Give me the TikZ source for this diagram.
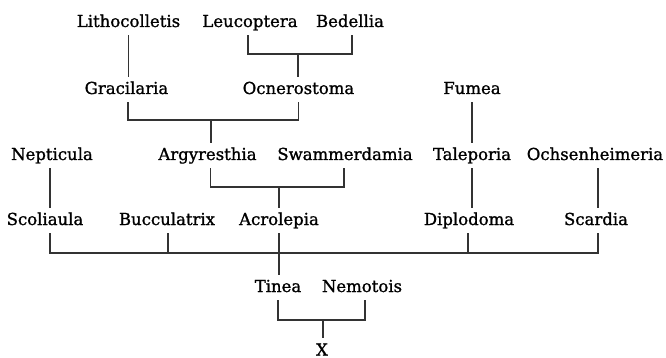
\documentclass[tikz,border=0pt]{standalone}
\usepackage{fontspec}
\newfontfamily\taxonfont[FakeBold=1.2]{DejaVu Serif}
\begin{document}
\begin{tikzpicture}[x=1pt,y=-1pt,
  taxon/.style={anchor=base,inner xsep=0pt,inner ysep=2pt,text height=15pt,text depth=6pt,font=\taxonfont\fontsize{16.5}{20}\selectfont},
  link/.style={line width=1.2pt,draw=black!80}]
\useasboundingbox[fill=white] (0,0) rectangle (666,358);
% row 1
\node[taxon] (lith) at (128.5,27) {Lithocolletis};
\node[taxon] (leu)  at (250,27) {Leucoptera};
\node[taxon] (bed)  at (350,27) {Bedellia};
% row 2
\node[taxon] (grac) at (126.5,94) {Gracilaria};
\node[taxon] (ocn)  at (298.5,94) {Ocnerostoma};
\node[taxon] (fum)  at (472,94) {Fumea};
% row 3
\node[taxon] (nep)  at (52,160) {Nepticula};
\node[taxon] (arg)  at (207.5,160) {Argyresthia};
\node[taxon] (swa)  at (345,160) {Swammerdamia};
\node[taxon] (tal)  at (472,160) {Taleporia};
\node[taxon] (och)  at (595,160) {Ochsenheimeria};
% row 4
\node[taxon] (sco)  at (45,225) {Scoliaula};
\node[taxon] (buc)  at (167,225) {Bucculatrix};
\node[taxon] (acr)  at (279,225) {Acrolepia};
\node[taxon] (dip)  at (469,225) {Diplodoma};
\node[taxon] (sca)  at (596,225) {Scardia};
% row 5
\node[taxon] (tin)  at (278,292) {Tinea};
\node[taxon] (nem)  at (362,292) {Nemotois};
\node[taxon] (xx)   at (322,355.5) {X};
% junctions
\coordinate (j1) at (298,54);
\coordinate (j2) at (211,120);
\coordinate (j3) at (279,187);
\coordinate (j4) at (279,253);
\coordinate (j5) at (323,320);
% connectors
\draw[link] (lith.south) -- (lith.south |- grac.north);
\draw[link] ([xshift=-2pt]leu.south) |- (j1) -| ([xshift=2pt]bed.south);
\draw[link] (j1) -- (j1 |- ocn.north);
\draw[link] ([xshift=1.5pt]grac.south) |- (j2) -| (ocn.south);
\draw[link] (j2) -- (j2 |- arg.north);
\draw[link] ([xshift=3pt]arg.south) |- (j3) -| ([xshift=-1pt]swa.south);
\draw[link] (j3) -- (j3 |- acr.north);
\draw[link] (fum.south) -- (fum.south |- tal.north);
\draw[link] (tal.south) -- (tal.south |- dip.north);
\draw[link] ([xshift=-2pt]nep.south) -- ([xshift=-2pt]nep.south |- sco.north);
\draw[link] ([xshift=3pt]och.south) -- ([xshift=3pt]och.south |- sca.north);
\draw[link] ([xshift=5pt]sco.south) |- (j4) -| ([xshift=2pt]sca.south);
\draw[link] ([xshift=1pt]buc.south) -- ([xshift=1pt]buc.south |- j4);
\draw[link] ([xshift=-1pt]dip.south) -- ([xshift=-1pt]dip.south |- j4);
\draw[link] (acr.south) -- (acr.south |- tin.north);
\draw[link] (tin.south) |- (j5) -| ([xshift=3pt]nem.south);
\draw[link] (j5) -- (j5 |- xx.north);
\end{tikzpicture}
\end{document}
